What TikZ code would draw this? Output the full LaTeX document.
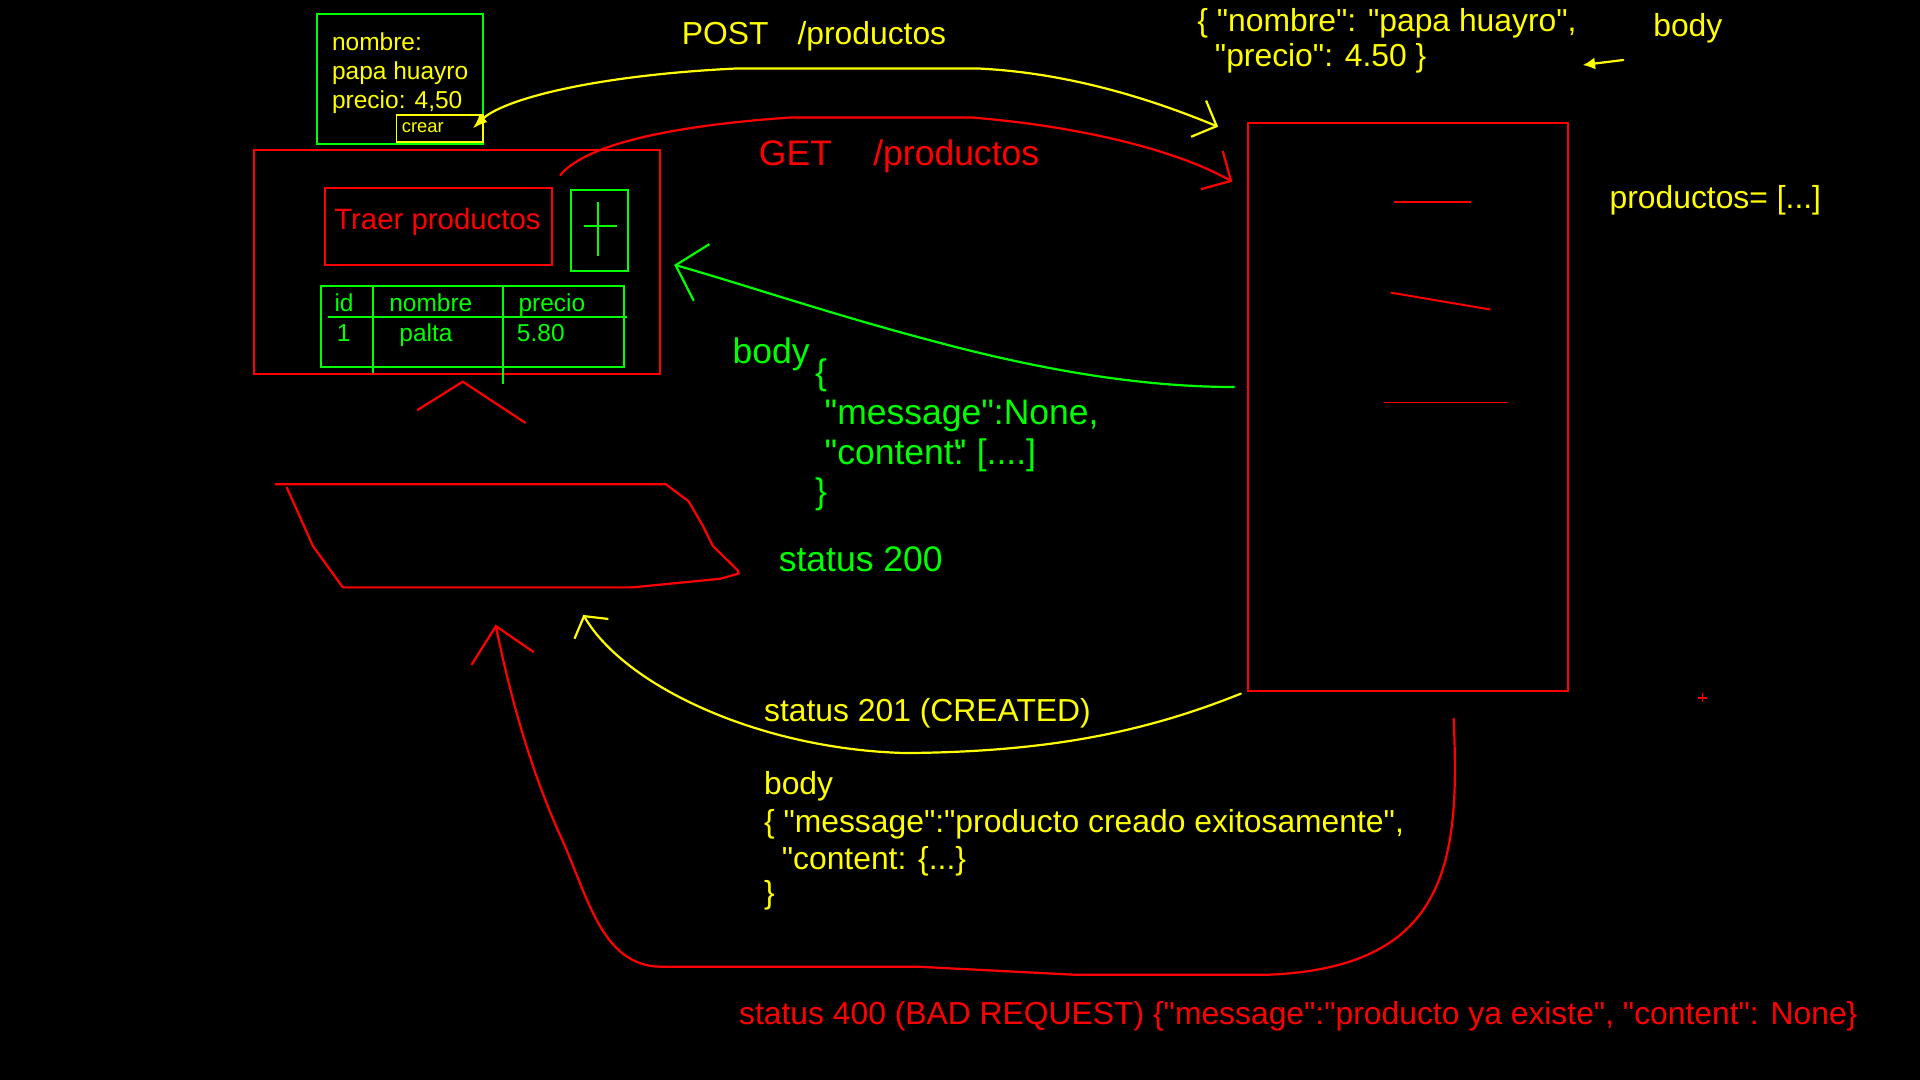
\documentclass[tikz,border=0pt]{standalone}
\usepackage{fontspec}
\newfontfamily\paintfont{Liberation Sans}
\usetikzlibrary{arrows.meta,calc}

\definecolor{pred}{RGB}{255,0,0}
\definecolor{pgreen}{RGB}{0,255,0}
\definecolor{pyellow}{RGB}{255,255,0}

\newcommand{\fsmall}{\paintfont\fontsize{15}{18}\selectfont}
\newcommand{\fform}{\paintfont\fontsize{20}{24}\selectfont}
\newcommand{\fbtn}{\paintfont\fontsize{24}{28}\selectfont}
\newcommand{\fmid}{\paintfont\fontsize{26}{30}\selectfont}
\newcommand{\fbig}{\paintfont\fontsize{29}{33}\selectfont}

\begin{document}
\begin{tikzpicture}[x=1pt,y=-1pt,
    box/.style={draw, line width=1.6pt, inner sep=0pt, anchor=north west},
    lbl/.style={inner sep=0pt, anchor=base west},
    wire/.style={line width=1.8pt, line join=round, line cap=round}]

    % background
    \fill[black] (0,0) rectangle (1568,882);
    \useasboundingbox (0,0) rectangle (1568,882);

    % form
    \node[box, pgreen, minimum width=136pt, minimum height=106pt] (form) at (258,11) {};
    \node[lbl, pyellow, font=\fform] (fnombre) at (271,41) {nombre:};
    \node[lbl, pyellow, font=\fform] (fpapa) at (271,65) {papa huayro};
    \node[lbl, pyellow, font=\fform] (fprecio) at (271,89) {precio: 4,50};
    \node[box, pyellow, minimum width=71pt, minimum height=22pt] (crear) at (323,93) {};
    \node[lbl, pyellow, font=\fsmall] (crearlbl) at (328,108.6) {crear};

    % frontend
    \node[box, pred, minimum width=331.4pt, minimum height=182.9pt] (front) at (206.6,121.7) {};
    \node[box, pred, minimum width=185.4pt, minimum height=63pt] (traer) at (264.6,153) {};
    \node[lbl, pred, font=\fbtn] (traerlbl) at (272.8,187.8) {Traer productos};
    \node[box, pgreen, minimum width=46.5pt, minimum height=66.1pt] (nuevo) at (465.5,154.4) {};
    \draw[pgreen, line width=1.6pt] (477,184.3) -- (504,184.3) (488.6,164.7) -- (488.6,209);

    % table
    \node[box, pgreen, minimum width=247.2pt, minimum height=66.2pt] (tabla) at (261.3,232.7) {};
    \draw[pgreen, line width=1.6pt] (267.9,259.1) -- (512,259.1);
    \draw[pgreen, line width=1.6pt] (304.3,234) -- (304.3,305);
    \draw[pgreen, line width=1.6pt] (410.5,234) -- (410.5,313.6);
    \node[lbl, pgreen, font=\fform] (colid) at (273,254.5) {id};
    \node[lbl, pgreen, font=\fform] (colnombre) at (317.7,254.5) {nombre};
    \node[lbl, pgreen, font=\fform] (colprecio) at (423.3,254.5) {precio};
    \node[lbl, pgreen, font=\fform] (valid) at (275,279) {1};
    \node[lbl, pgreen, font=\fform] (valnombre) at (326,279) {palta};
    \node[lbl, pgreen, font=\fform] (valprecio) at (422,279) {5.80};

    % caret and screen
    \draw[pred, wire] (341,334.8) -- (377.9,311.7) -- (428.8,345.2);
    \draw[pred, wire] (225,395.4) -- (543.7,395.4) -- (562.4,409.4) -- (573.8,429.1)
        -- (582.3,446) -- (602.4,465.7) -- (603.3,468.4) -- (588,472.7)
        -- (516.5,479.7) -- (280,479.7) -- (255.6,446) -- (234.2,398.1);
    \coordinate (ok201) at (476.4,502.2);
    \coordinate (err400) at (404.7,510.1);

    % server
    \node[box, pred, minimum width=260.7pt, minimum height=463.5pt] (server) at (1018.7,100) {};
    \draw[pred, line width=1.6pt] (1138.3,165.3) -- (1201.5,165.3);
    \draw[pred, line width=1.6pt] (1135.9,239) -- (1217.2,252.8);
    \draw[pred, line width=1.6pt] (1130.4,328.7) -- (1230.7,328.7);
    \node[lbl, pyellow, font=\fmid] (lista) at (1314.3,170.5) {productos= [...]};
    \draw[pred, line width=1.2pt] (1386.7,570) -- (1394.1,570) (1390.4,566.3) -- (1390.4,573.7);

    % post request
    \node[lbl, pyellow, font=\fmid] (post) at (556.6,36.2) {POST\hspace{23.7pt}/productos};
    \node[lbl, pyellow, font=\fmid] (json1) at (977.7,25.9) {\{ "nombre": "papa huayro",};
    \node[lbl, pyellow, font=\fmid] (json2) at (992,54.5) {"precio": 4.50 \}};
    \node[lbl, pyellow, font=\fmid] (bodytop) at (1350,30) {body};
    \draw[pyellow, wire, -{Latex[length=10pt,width=10pt]}] ($(bodytop.base west)+(-24.3,19)$) -- ($(json1.base east)+(4.9,27.2)$);
    \draw[pyellow, wire, {Latex[length=12pt,width=9pt]}-{Straight Barb[length=16pt,width=32pt]}]
        ([xshift=-9.4pt]crear.east) .. controls (410,82) and (480,62) .. (600,56) -- (800,56)
        .. controls (880,60) and (950,85) .. ($(server.north west)+(-23.9,3.5)$);

    % get request
    \node[lbl, pred, font=\fbig] (get) at (619.6,134.8) {GET\hspace{33.8pt}/productos};
    \draw[pred, wire, -{Straight Barb[length=18pt,width=36pt]}]
        ($(traer.north east)+(6,-10)$) .. controls (475,122) and (530,104) .. (645,96) -- (794,96)
        .. controls (880,103) and (960,122) .. ($(server.north west)+(-12.3,48.4)$);

    % response 200
    \node[lbl, pgreen, font=\fbig] (body200) at (598.2,296.7) {body};
    \node[lbl, pgreen, font=\fbig] (open200) at (665.4,314) {\{};
    \node[lbl, pgreen, font=\fbig] (msg200) at (673.3,346.5) {"message":None,};
    \node[lbl, pgreen, font=\fbig] (cont200) at (673.3,379) {"content\rlap{"}: [....]};
    \node[lbl, pgreen, font=\fbig] (close200) at (665.4,411) {\}};
    \node[lbl, pgreen, font=\fbig] (st200) at (635.8,466.9) {status 200};
    \draw[pgreen, wire, -{Straight Barb[length=22pt,width=48pt]}]
        ($(server.west)+(-11,-16.5)$) .. controls (940,316) and (860,305) .. (760,278)
        .. controls (680,257) and (600,230) .. ($(front.east)+(11,2.3)$);

    % response 201
    \node[lbl, pyellow, font=\fmid] (st201) at (623.8,589.4) {status 201 (CREATED)};
    \node[lbl, pyellow, font=\fmid] (body201) at (623.8,649) {body};
    \node[lbl, pyellow, font=\fmid] (msg201) at (623.8,680) {\{ "message":"producto creado exitosamente",};
    \node[lbl, pyellow, font=\fmid] (cont201) at (638.3,710) {"content: \{...\}};
    \node[lbl, pyellow, font=\fmid] (close201) at (623.8,737.7) {\}};
    \draw[pyellow, wire, -{Straight Barb[length=12pt,width=32pt]}]
        ($(server.south west)+(-5.4,1.4)$) .. controls (930,600) and (850,614) .. (740,615)
        .. controls (620,612) and (510,560) .. (ok201);

    % response 400
    \node[lbl, pred, font=\fmid] (st400) at (603.4,837) {status 400 (BAD REQUEST) \{"message":"producto ya existe", "content": None\}};
    \draw[pred, wire, -{Straight Barb[length=27pt,width=52pt]}]
        ($(server.south)+(37.3,21.8)$) .. controls (1192,700) and (1185,790) .. (1036,796)
        -- (877,796) -- (750,789.5) -- (540,789.5)
        .. controls (490,789) and (480,730) .. (456,679)
        .. controls (430,620) and (415,560) .. (err400);
\end{tikzpicture}
\end{document}
